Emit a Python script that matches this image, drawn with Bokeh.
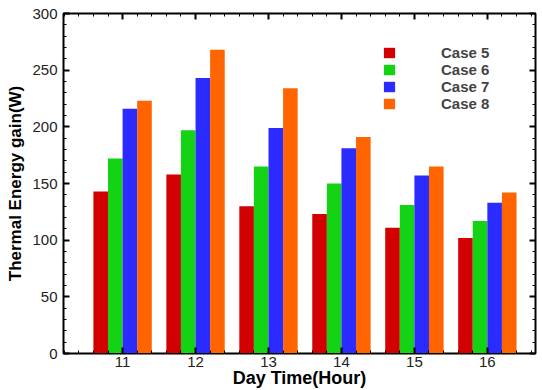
from bokeh.plotting import figure
from bokeh.models import (LinearAxis, SingleIntervalTicker, Legend, LegendItem,
                          Range1d, ColumnDataSource, CustomJSTickFormatter)
from bokeh.transform import dodge
from bokeh.embed import file_html
from bokeh.resources import INLINE

hours = [11, 12, 13, 14, 15, 16]
case5 = [143, 158, 130, 123, 111, 102]
case6 = [172, 197, 165, 150, 131, 117]
case7 = [216, 243, 199, 181, 157, 133]
case8 = [223, 268, 234, 191, 165, 142]
series_names = ["Case 5", "Case 6", "Case 7", "Case 8"]
series_keys = ["case5", "case6", "case7", "case8"]
colors = ["#d20000", "#14d214", "#2b2bff", "#ff6400"]
offsets = [-0.3, -0.1, 0.1, 0.3]

src = ColumnDataSource(dict(hour=hours, case5=case5, case6=case6, case7=case7, case8=case8))

FONT = "Liberation Sans"

p = figure(width=542, height=390, x_range=Range1d(10.19, 16.66), y_range=Range1d(0, 300),
           output_backend="svg", toolbar_location=None,
           min_border_left=63, min_border_right=7, min_border_top=13, min_border_bottom=37,
           x_axis_label="Day Time(Hour)", y_axis_label="Thermal Energy gain(W)")
p.xgrid.visible = False
p.ygrid.visible = False
p.outline_line_color = "black"
p.outline_line_width = 2
p.background_fill_color = "white"
p.border_fill_color = "white"

renderers = []
for key, col, off in zip(series_keys, colors, offsets):
    r = p.vbar(x=dodge("hour", off, range=p.x_range), top=key, width=0.2, bottom=0,
               source=src, fill_color=col, line_color=None)
    renderers.append(r)

xt = SingleIntervalTicker(interval=1, num_minor_ticks=5)
yt = SingleIntervalTicker(interval=50, num_minor_ticks=5)

def style(ax):
    ax.major_tick_in = 6
    ax.major_tick_out = 0
    ax.minor_tick_in = 3
    ax.minor_tick_out = 0
    ax.axis_line_color = "black"
    ax.axis_line_width = 1
    ax.major_tick_line_width = 2
    ax.major_tick_line_color = "black"
    ax.minor_tick_line_color = "black"
    ax.major_label_text_font = FONT
    ax.major_label_text_font_size = "15px"
    ax.major_label_text_color = "#222222"
    ax.axis_label_text_font = FONT
    ax.axis_label_text_font_style = "bold"
    ax.axis_label_text_color = "black"

p.xaxis.ticker = xt
p.yaxis.ticker = yt
for ax in p.xaxis:
    style(ax)
    ax.major_label_standoff = 3
    ax.axis_label_standoff = -2
    ax.axis_label_text_font_size = "18px"
for ax in p.yaxis:
    style(ax)
    ax.major_label_standoff = 6
    ax.axis_label_standoff = 4
    ax.axis_label_text_font_size = "17px"

top = LinearAxis(ticker=xt, formatter=CustomJSTickFormatter(code="return ''"))
style(top)
top.major_label_standoff = 0
p.add_layout(top, "above")
right = LinearAxis(ticker=yt, formatter=CustomJSTickFormatter(code="return ''"))
style(right)
right.major_label_standoff = 0
p.add_layout(right, "right")

items = [LegendItem(label=n, renderers=[r]) for n, r in zip(series_names, renderers)]
legend = Legend(items=items, location=(319, 241), glyph_width=14, glyph_height=13,
                label_standoff=45, spacing=-1, padding=0, margin=0,
                border_line_color=None, background_fill_alpha=0,
                label_text_font=FONT, label_text_font_style="bold",
                label_text_font_size="15px", label_height=13)
p.add_layout(legend)

open("out.html", "w").write(file_html(p, INLINE))
